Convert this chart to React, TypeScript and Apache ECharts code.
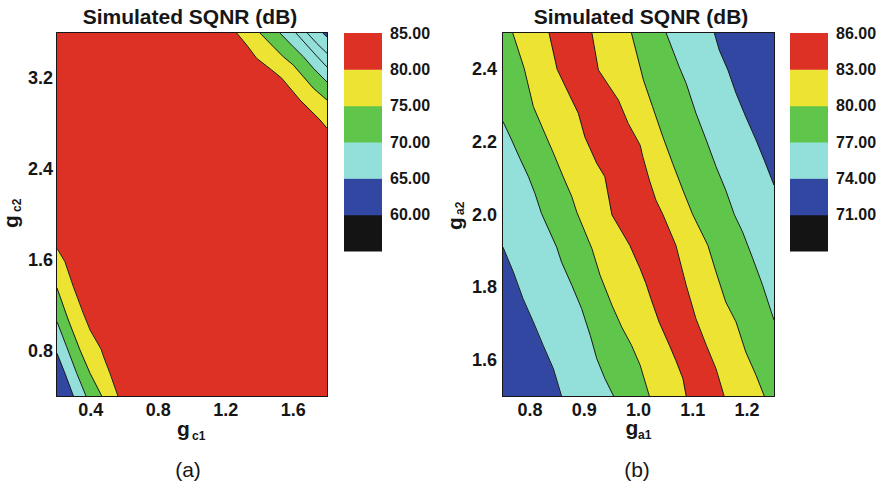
import React, { useEffect, useRef } from 'react';
import * as echarts from 'echarts';

const FONT = '"Liberation Sans", Arial, Helvetica, sans-serif';

const RED = '#DE3125';
const YELLOW = '#ECE333';
const GREEN = '#60C64B';
const CYAN = '#93E0DA';
const BLUE = '#3247A2';
const BLACK = '#141414';

// ---------- Plot (a): g_c1 vs g_c2 ----------
const aXRange = [0.2, 1.8];
const aYRange = [0.4, 3.6];
const aXTickLabels = ['0.4', '0.8', '1.2', '1.6'];
const aYTickLabels = ['0.8', '1.6', '2.4', '3.2'];

// contour lines (top-right corner)
const aTR80 = [[1.265, 3.6], [1.324, 3.494], [1.383, 3.377], [1.472, 3.274], [1.532, 3.201], [1.64, 3.009], [1.759, 2.833], [1.8, 2.76]];
const aTR75 = [[1.403, 3.6], [1.482, 3.479], [1.541, 3.391], [1.6, 3.318], [1.66, 3.215], [1.719, 3.113], [1.8, 3.009]];
const aTR70 = [[1.521, 3.6], [1.6, 3.479], [1.66, 3.391], [1.719, 3.289], [1.8, 3.168]];
const aTR68 = [[1.616, 3.6], [1.68, 3.494], [1.739, 3.397], [1.8, 3.3]];
const aTR66 = [[1.683, 3.6], [1.739, 3.509], [1.8, 3.421]];
const aTR65 = [[1.775, 3.6], [1.8, 3.565]];
// contour lines (bottom-left corner)
const aBL80 = [[0.2, 1.702], [0.247, 1.584], [0.297, 1.364], [0.356, 1.129], [0.396, 0.982], [0.461, 0.814], [0.479, 0.735], [0.514, 0.6], [0.561, 0.4]];
const aBL75 = [[0.2, 1.352], [0.267, 1.07], [0.336, 0.806], [0.396, 0.6], [0.465, 0.4]];
const aBL70 = [[0.2, 1.055], [0.257, 0.835], [0.317, 0.6], [0.372, 0.4]];
const aBL65 = [[0.2, 0.776], [0.247, 0.6], [0.297, 0.4]];

const aCbLevels = [55, 60, 65, 70, 75, 80, 85];
const aCbColors = [BLACK, BLUE, CYAN, GREEN, YELLOW, RED];
const aCbLabels = ['60.00', '65.00', '70.00', '75.00', '80.00', '85.00'];

// ---------- Plot (b): g_a1 vs g_a2 ----------
const bXRange = [0.75, 1.25];
const bYRange = [1.5, 2.5];
const bXTickLabels = ['0.8', '0.9', '1.0', '1.1', '1.2'];
const bYTickLabels = ['1.6', '1.8', '2.0', '2.2', '2.4'];

const bL74 = [[0.75, 1.91], [0.769, 1.842], [0.787, 1.768], [0.806, 1.704], [0.824, 1.64], [0.843, 1.575], [0.858, 1.5]];
const bL77 = [[0.75, 2.256], [0.766, 2.205], [0.781, 2.155], [0.797, 2.104], [0.809, 2.058], [0.821, 2.003], [0.849, 1.91], [0.858, 1.869], [0.877, 1.805], [0.895, 1.741], [0.911, 1.667], [0.923, 1.603], [0.938, 1.548], [0.954, 1.5]];
const bL80 = [[0.768, 2.5], [0.789, 2.403], [0.806, 2.297], [0.827, 2.224], [0.843, 2.169], [0.861, 2.104], [0.877, 2.049], [0.886, 2.007], [0.914, 1.906], [0.929, 1.833], [0.951, 1.75], [0.969, 1.69], [0.987, 1.64], [1.003, 1.585], [1.02, 1.5]];
const bL83 = [[0.835, 2.5], [0.85, 2.4], [0.874, 2.325], [0.889, 2.279], [0.901, 2.214], [0.923, 2.141], [0.938, 2.104], [0.951, 1.999], [0.984, 1.915], [1.003, 1.851], [1.014, 1.809], [1.023, 1.768], [1.038, 1.704], [1.057, 1.64], [1.069, 1.598], [1.082, 1.548], [1.088, 1.5]];
const bR83 = [[0.914, 2.5], [0.926, 2.398], [0.963, 2.315], [0.981, 2.251], [1.003, 2.191], [1.008, 2.159], [1.02, 2.095], [1.032, 2.04], [1.045, 2.0], [1.069, 1.915], [1.088, 1.805], [1.106, 1.713], [1.125, 1.64], [1.143, 1.575], [1.158, 1.5]];
const bR80 = [[0.987, 2.5], [1.009, 2.371], [1.026, 2.297], [1.045, 2.214], [1.063, 2.141], [1.082, 2.067], [1.1, 2.0], [1.128, 1.915], [1.143, 1.842], [1.161, 1.759], [1.18, 1.704], [1.198, 1.621], [1.217, 1.557], [1.232, 1.5]];
const bR77 = [[1.051, 2.5], [1.075, 2.407], [1.088, 2.361], [1.106, 2.279], [1.125, 2.205], [1.143, 2.132], [1.161, 2.067], [1.177, 1.999], [1.192, 1.952], [1.211, 1.878], [1.229, 1.805], [1.241, 1.75], [1.25, 1.709]];
const bR74 = [[1.14, 2.5], [1.149, 2.453], [1.165, 2.398], [1.18, 2.334], [1.198, 2.269], [1.217, 2.205], [1.232, 2.15], [1.25, 2.081]];

const bCbLevels = [68, 71, 74, 77, 80, 83, 86];
const bCbColors = [BLACK, BLUE, CYAN, GREEN, YELLOW, RED];
const bCbLabels = ['71.00', '74.00', '77.00', '80.00', '83.00', '86.00'];

type Pt = number[];
type Fill = { line: Pt[] | null; corners: string[]; color: string };

// layered fills: each contour line closed by plot corners on its far side
const aFills: Fill[] = [
  { line: null, corners: ['BL', 'BR', 'TR', 'TL'], color: RED },
  { line: aTR80, corners: ['TR'], color: YELLOW },
  { line: aTR75, corners: ['TR'], color: GREEN },
  { line: aTR70, corners: ['TR'], color: CYAN },
  { line: aTR65, corners: ['TR'], color: BLUE },
  { line: aBL80, corners: ['BL'], color: YELLOW },
  { line: aBL75, corners: ['BL'], color: GREEN },
  { line: aBL70, corners: ['BL'], color: CYAN },
  { line: aBL65, corners: ['BL'], color: BLUE },
];
const aLines = [aTR80, aTR75, aTR70, aTR68, aTR66, aTR65, aBL80, aBL75, aBL70, aBL65];

const bFills: Fill[] = [
  { line: null, corners: ['BL', 'BR', 'TR', 'TL'], color: BLUE },
  { line: bL74, corners: ['BR', 'TR', 'TL'], color: CYAN },
  { line: bL77, corners: ['BR', 'TR', 'TL'], color: GREEN },
  { line: bL80, corners: ['BR', 'TR'], color: YELLOW },
  { line: bL83, corners: ['BR', 'TR'], color: RED },
  { line: bR83, corners: ['BR', 'TR'], color: YELLOW },
  { line: bR80, corners: ['BR', 'TR'], color: GREEN },
  { line: bR77, corners: ['TR'], color: CYAN },
  { line: bR74, corners: ['TR'], color: BLUE },
];
const bLines = [bL74, bL77, bL80, bL83, bR83, bR80, bR77, bR74];

function cornerPt(c: string, xr: number[], yr: number[]): Pt {
  const x = c[1] === 'L' ? xr[0] : xr[1];
  const y = c[0] === 'B' ? yr[0] : yr[1];
  return [x, y];
}

function fillSeries(fills: Fill[], xr: number[], yr: number[], axisIdx: number) {
  return {
    type: 'custom',
    xAxisIndex: axisIdx,
    yAxisIndex: axisIdx,
    clip: true,
    silent: true,
    z: 1,
    data: fills.map((_, i) => [i]),
    renderItem: (params: any, api: any) => {
      const f = fills[params.dataIndex];
      const pts = [...(f.line || []), ...f.corners.map((c) => cornerPt(c, xr, yr))].map((p) => api.coord(p));
      return { type: 'polygon', shape: { points: pts }, style: { fill: f.color, stroke: f.color, lineWidth: 0.3 } };
    },
  };
}

function lineSeries(lines: Pt[][], axisIdx: number) {
  return {
    type: 'custom',
    xAxisIndex: axisIdx,
    yAxisIndex: axisIdx,
    clip: true,
    silent: true,
    z: 2,
    data: lines.map((_, i) => [i]),
    renderItem: (params: any, api: any) => {
      const pts = lines[params.dataIndex].map((p) => api.coord(p));
      return { type: 'polyline', shape: { points: pts }, style: { fill: 'none', stroke: '#1a1a1a', lineWidth: 1 } };
    },
  };
}

function cbSeries(levels: number[], colors: string[], axisIdx: number) {
  return {
    type: 'custom',
    xAxisIndex: axisIdx,
    yAxisIndex: axisIdx,
    silent: true,
    data: colors.map((_, i) => [i]),
    renderItem: (params: any, api: any) => {
      const i = params.dataIndex;
      const p1 = api.coord([0, levels[i + 1]]);
      const p2 = api.coord([1, levels[i]]);
      return {
        type: 'rect',
        shape: { x: p1[0], y: p1[1], width: p2[0] - p1[0], height: p2[1] - p1[1] + 0.5 },
        style: { fill: colors[i] },
      };
    },
  };
}

const axisLineStyle = { show: true, onZero: false, lineStyle: { color: '#161616', width: 2 } };
const tickStyle = { show: true, inside: true, length: 5, lineStyle: { color: '#161616', width: 1 } };

function findLabel(labels: string[], v: number): string {
  const hit = labels.find((l) => Math.abs(parseFloat(l) - v) < 1e-6);
  return hit || '';
}

function valAxis(gridIndex: number, range: number[], interval: number, position: string, labels: string[] | null, margin: number) {
  return {
    type: 'value',
    gridIndex,
    min: range[0],
    max: range[1],
    interval,
    position,
    axisLine: axisLineStyle,
    axisTick: tickStyle,
    splitLine: { show: false },
    axisLabel: labels
      ? {
          show: true,
          margin,
          color: '#161616',
          fontFamily: FONT,
          fontWeight: 'bold',
          fontSize: 18,
          formatter: (v: number) => findLabel(labels, v),
        }
      : { show: false },
  };
}

function cbYAxis(gridIndex: number, levels: number[], labels: string[]) {
  return {
    type: 'value',
    gridIndex,
    min: levels[0],
    max: levels[levels.length - 1],
    interval: levels[1] - levels[0],
    position: 'right',
    axisLine: { show: false },
    axisTick: { show: false },
    splitLine: { show: false },
    axisLabel: {
      show: true,
      margin: 8,
      color: '#161616',
      fontFamily: FONT,
      fontWeight: 'bold',
      fontSize: 16,
      formatter: (v: number) => findLabel(labels, v),
    },
  };
}

function txt(text: string, x: number, y: number, size: number, bold: boolean, align: string) {
  return {
    type: 'text',
    x,
    y,
    silent: true,
    style: {
      text,
      fontFamily: FONT,
      fontSize: size,
      fontWeight: bold ? 'bold' : 'normal',
      fill: '#161616',
      align,
      verticalAlign: 'middle',
      textAlign: align,
      textVerticalAlign: 'middle',
    },
  };
}

function rotLabel(main: string, sub: string, x: number, y: number, gMid: number, subX: number, subMid: number) {
  return {
    type: 'group',
    x,
    y,
    rotation: Math.PI / 2,
    children: [txt(main, 0, gMid, 21, true, 'left'), txt(sub, subX, subMid, 12, true, 'left')],
  };
}

const option: any = {
  animation: false,
  backgroundColor: '#ffffff',
  grid: [
    { left: 57, top: 33, width: 270, height: 363 },
    { left: 503, top: 33, width: 271, height: 363 },
    { left: 344, top: 33, width: 38, height: 218 },
    { left: 790, top: 33, width: 38, height: 218 },
  ],
  xAxis: [
    valAxis(0, aXRange, 0.2, 'bottom', aXTickLabels, 5),
    valAxis(1, bXRange, 0.05, 'bottom', bXTickLabels, 5),
    { type: 'value', gridIndex: 2, min: 0, max: 1, show: false },
    { type: 'value', gridIndex: 3, min: 0, max: 1, show: false },
    valAxis(0, aXRange, 0.2, 'top', null, 0),
    valAxis(1, bXRange, 0.05, 'top', null, 0),
  ],
  yAxis: [
    valAxis(0, aYRange, 0.4, 'left', aYTickLabels, 4),
    valAxis(1, bYRange, 0.1, 'left', bYTickLabels, 6),
    cbYAxis(2, aCbLevels, aCbLabels),
    cbYAxis(3, bCbLevels, bCbLabels),
    valAxis(0, aYRange, 0.4, 'right', null, 0),
    valAxis(1, bYRange, 0.1, 'right', null, 0),
  ],
  series: [
    fillSeries(aFills, aXRange, aYRange, 0),
    lineSeries(aLines, 0),
    fillSeries(bFills, bXRange, bYRange, 1),
    lineSeries(bLines, 1),
    cbSeries(aCbLevels, aCbColors, 2),
    cbSeries(bCbLevels, bCbColors, 3),
  ],
  graphic: [
    txt('Simulated SQNR (dB)', 190, 16.7, 21, true, 'center'),
    txt('Simulated SQNR (dB)', 641, 16.7, 21, true, 'center'),
    txt('(a)', 188, 469, 21, false, 'center'),
    txt('(b)', 637, 469, 21, false, 'center'),
    txt('g', 177, 428, 21, true, 'left'),
    txt('c1', 192, 436, 12, true, 'left'),
    txt('g', 625.5, 427, 21, true, 'left'),
    txt('a1', 638, 435, 12, true, 'left'),
    rotLabel('g', 'c2', 1, 228, 9.7, 16, 15.8),
    rotLabel('g', 'a2', 441, 230, 13.7, 15, 19.1),
  ],
};

export default function App() {
  const ref = useRef<HTMLDivElement>(null);
  useEffect(() => {
    const chart = echarts.init(ref.current!, undefined, { renderer: 'svg' });
    chart.setOption(option);
    return () => chart.dispose();
  }, []);
  return (
    <div
      ref={ref}
      style={{ position: 'fixed', left: 0, top: 0, width: 882, height: 487, background: '#fff' }}
    />
  );
}
